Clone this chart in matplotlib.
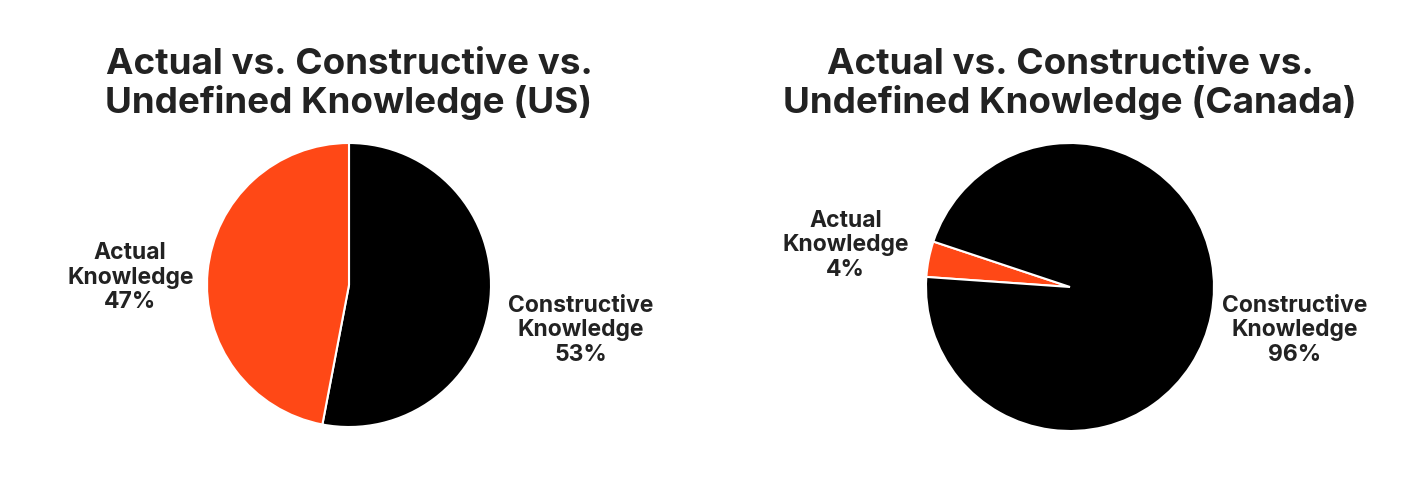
import matplotlib
matplotlib.use("Agg")
import matplotlib.pyplot as plt

categories = ["Actual\nKnowledge", "Constructive\nKnowledge"]
us_values = [47, 53]
canada_values = [4, 96]
titles = ["Actual vs. Constructive vs.\nUndefined Knowledge (US)",
          "Actual vs. Constructive vs.\nUndefined Knowledge (Canada)"]

ORANGE = "#FF4816"
BLACK = "#000000"
TEXT = "#222222"
FONT = "Inter"

W, H = 1414, 500
fig = plt.figure(figsize=(W / 100, H / 100), dpi=100)

def add_pie(cx, cy, r, values, start, order, label_pos, title, title_y):
    ax = fig.add_axes([(cx - r) / W, (H - cy - r) / H, 2 * r / W, 2 * r / H])
    vals = [values[i] for i in order]
    cols = [[ORANGE, BLACK][i] for i in order]
    ax.pie(vals, colors=cols, startangle=start, counterclock=False,
           wedgeprops=dict(edgecolor="white", linewidth=1.5), radius=1.0)
    ax.set_xlim(-1, 1)
    ax.set_ylim(-1, 1)
    ax.set_aspect("equal")
    ax.axis("off")
    for i, (lx, ly) in enumerate(label_pos):
        ax.text(lx, ly, f"{categories[i]}\n{values[i]}%", ha="center", va="center",
                fontsize=16.5, fontweight="bold", family=FONT, color=TEXT,
                linespacing=1.15, clip_on=False)
    fig.text(cx / W, 1 - title_y / H, title, ha="center", va="center",
             fontsize=26.5, fontweight="bold", family=FONT, color=TEXT, linespacing=1.15)

# US: constructive first from top clockwise
add_pie(349, 285, 142, us_values, 90, [1, 0],
        [(-1.54, 0.05), (1.63, -0.32)], titles[0], 84)
# Canada
add_pie(1070, 287, 144, canada_values, 176, [0, 1],
        [(-1.56, 0.29), (1.56, -0.30)], titles[1], 84)

fig.savefig("out.png", dpi=100, facecolor="white")
